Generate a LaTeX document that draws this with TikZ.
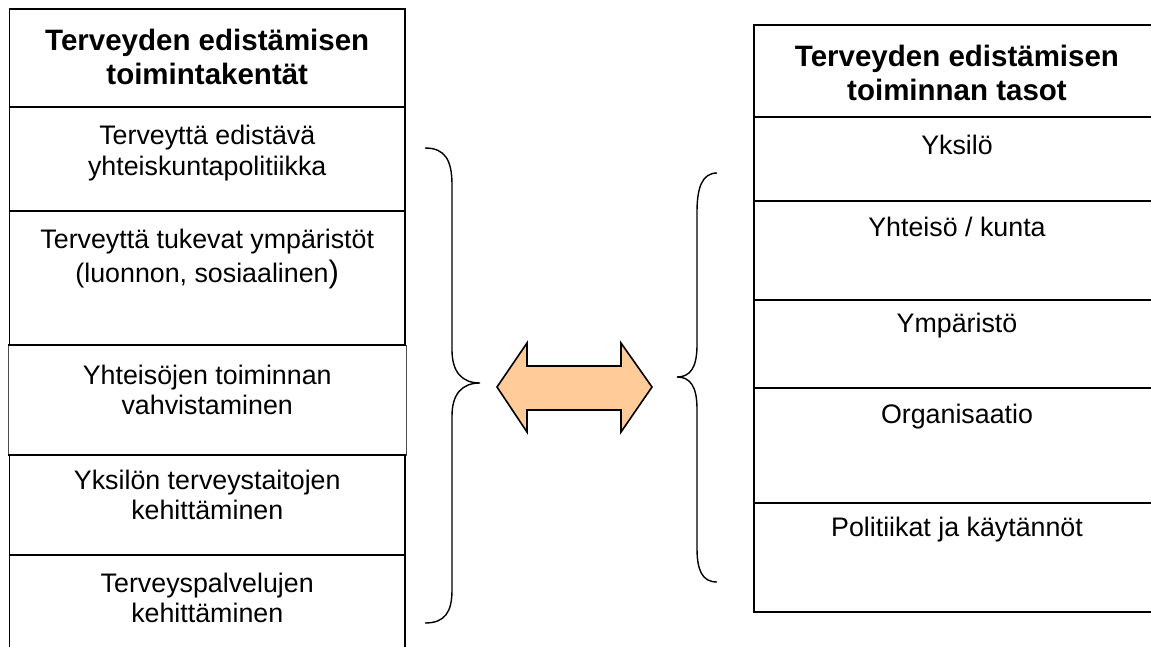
\documentclass[tikz,border=0pt]{standalone}
\usepackage{fontspec}
\setmainfont{Liberation Sans}
\definecolor{peach}{HTML}{FFCC99}
\begin{document}
\begin{tikzpicture}[x=1pt,y=-1pt,
  boxline/.style={line width=1.8pt},
  thinbox/.style={line width=1pt, draw=black!70},
  bracestyle/.style={line width=1.4pt},
  head/.style={align=center, font=\fontsize{29.5}{34.5}\selectfont\bfseries, inner sep=0pt},
  lbl/.style={align=center, font=\fontsize{26.8}{30.5}\selectfont, inner sep=0pt},
  dblarrow/.style={fill=peach, draw=black, line width=1.6pt, line join=miter}]
\useasboundingbox (0,0) rectangle (1151,646);
\clip (0,0) rectangle (1151,646);

% ---------- left table ----------
\draw[boxline] (9.5,345) -- (9.5,9) -- (405,9) -- (405,345);
\draw[boxline] (9.5,107) -- (405,107);
\draw[boxline] (9.5,211) -- (405,211);
\draw[thinbox] (8,345) rectangle (406,455);
\draw[boxline] (8,345) -- (406,345);
\draw[boxline] (8,455) -- (406,455);
\draw[boxline] (9.5,455) -- (9.5,660);
\draw[boxline] (405,455) -- (405,660);
\draw[boxline] (9.5,555) -- (405,555);

\node[head] (lh) at (207.25,57) {Terveyden edistämisen\\toimintakentät};
\node[lbl] (l1) at (207.25,153) {Terveyttä edistävä\\yhteiskuntapolitiikka};
\node[lbl] (l2) at (207.25,259) {Terveyttä tukevat ympäristöt\\[4pt](luonnon, sosiaalinen{\fontsize{31}{34}\selectfont)}};
\node[lbl] (l3) at (207.25,390) {Yhteisöjen toiminnan\\vahvistaminen};
\node[lbl] (l4) at (207.25,495) {Yksilön terveystaitojen\\kehittäminen};
\node[lbl] (l5) at (207.25,598) {Terveyspalvelujen\\kehittäminen};

% ---------- right table ----------
\draw[boxline] (1170,25) -- (754,25) -- (754,612) -- (1170,612);
\foreach \yy in {117,201,300,388,503}
  \draw[boxline] (754,\yy) -- (1170,\yy);

\node[head] (rh) at (957,73) {Terveyden edistämisen\\toiminnan tasot};
\node[lbl] (r1) at (957,145) {Yksilö};
\node[lbl] (r2) at (957,227) {Yhteisö / kunta};
\node[lbl] (r3) at (957,326) {Ympäristö};
\node[lbl] (r4) at (957,417) {Organisaatio};
\node[lbl] (r5) at (957,530) {Politiikat ja käytännöt};

% ---------- braces ----------
\draw[bracestyle] (425,148) .. controls (445,148) and (452,160) .. (452,185)
  -- (452,350) .. controls (452,372) and (462,383) .. (480,383)
  .. controls (462,383) and (452,394) .. (452,416)
  -- (452,590) .. controls (452,612) and (445,623) .. (425,623);
\draw[bracestyle] (717,173) .. controls (702,173) and (697,188) .. (697,212)
  -- (697,345) .. controls (697,368) and (690,377) .. (677,377)
  .. controls (690,377) and (697,386) .. (697,409)
  -- (697,548) .. controls (697,570) and (702,582) .. (717,582);

% ---------- double arrow ----------
\draw[dblarrow] (497,387) -- (527,343) -- (527,366) -- (621,366) -- (621,343)
  -- (652,387) -- (621,432) -- (621,410) -- (527,410) -- (527,432) -- cycle;
\end{tikzpicture}
\end{document}
